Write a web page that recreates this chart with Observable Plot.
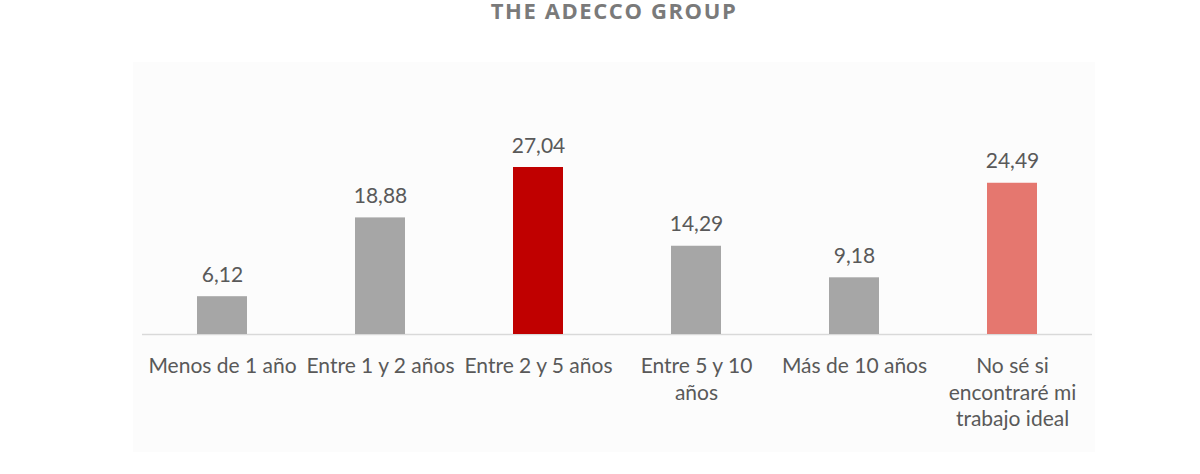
<!DOCTYPE html>
<html>
<head>
<meta charset="utf-8">
<script src="https://cdn.jsdelivr.net/npm/d3@7"></script>
<script src="https://cdn.jsdelivr.net/npm/@observablehq/plot@0.6"></script>
<style>
  html, body { margin: 0; padding: 0; background: #ffffff; }
  #wrap { position: relative; width: 1200px; height: 474px; overflow: hidden; }
  #panel { position: absolute; left: 133px; top: 62px; width: 962px; height: 390px; background: #fcfcfc; }
  #title { position: absolute; left: 0; width: 1228px; top: 0; text-align: center;
           font-family: "Open Sans", sans-serif; font-weight: 700; font-size: 22px;
           letter-spacing: 1.6px; color: #7a7a7a; line-height: 20px; }
  #chart { position: absolute; left: 0; top: 0; }
</style>
</head>
<body>
<div id="wrap">
  <div id="panel"></div>
  <div id="title">THE ADECCO GROUP</div>
  <div id="chart"></div>
</div>
<script>
const categories = [
  "Menos de 1 año",
  "Entre 1 y 2 años",
  "Entre 2 y 5 años",
  "Entre 5 y 10 años",
  "Más de 10 años",
  "No sé si encontraré mi trabajo ideal"
];
const tickLabels = [
  "Menos de 1 año",
  "Entre 1 y 2 años",
  "Entre 2 y 5 años",
  "Entre 5 y 10\naños",
  "Más de 10 años",
  "No sé si\nencontraré mi\ntrabajo ideal"
];
const values = [6.12, 18.88, 27.04, 14.29, 9.18, 24.49];
const valueLabels = ["6,12", "18,88", "27,04", "14,29", "9,18", "24,49"];

const palette = ["#a6a6a6", "#a6a6a6", "#c00000", "#a6a6a6", "#a6a6a6", "#e5776f"];

const data = categories.map((c, i) => ({
  cat: c, value: values[i], label: valueLabels[i], tick: tickLabels[i]
}));

const fontFamily = "Lato, 'Open Sans', sans-serif";

const chart = Plot.plot({
  width: 1200,
  height: 474,
  marginLeft: 142,
  marginRight: 108,
  marginTop: 0,
  marginBottom: 0,
  style: { background: "transparent", fontFamily, color: "#595959" },
  x: { domain: categories, paddingInner: 0.684, paddingOuter: 0.342, axis: null },
  y: { domain: [0, 27.04], range: [334, 167], axis: null },
  color: { domain: categories, range: palette },
  marks: [
    Plot.ruleY([0], { stroke: "#d9d9d9", strokeWidth: 1.5 }),
    Plot.barY(data, { x: "cat", y: "value", fill: "cat" }),
    Plot.text(data, {
      x: "cat", y: "value", text: "label", lineAnchor: "bottom", dy: -15,
      fontSize: 21, fill: "#595959", fontFamily
    }),
    Plot.text(data, {
      x: "cat", y: () => 0, text: "tick", lineAnchor: "top", dy: 20,
      fontSize: 21, lineHeight: 1.26, fill: "#595959", fontFamily
    })
  ]
});
document.getElementById("chart").appendChild(chart);
</script>
</body>
</html>
